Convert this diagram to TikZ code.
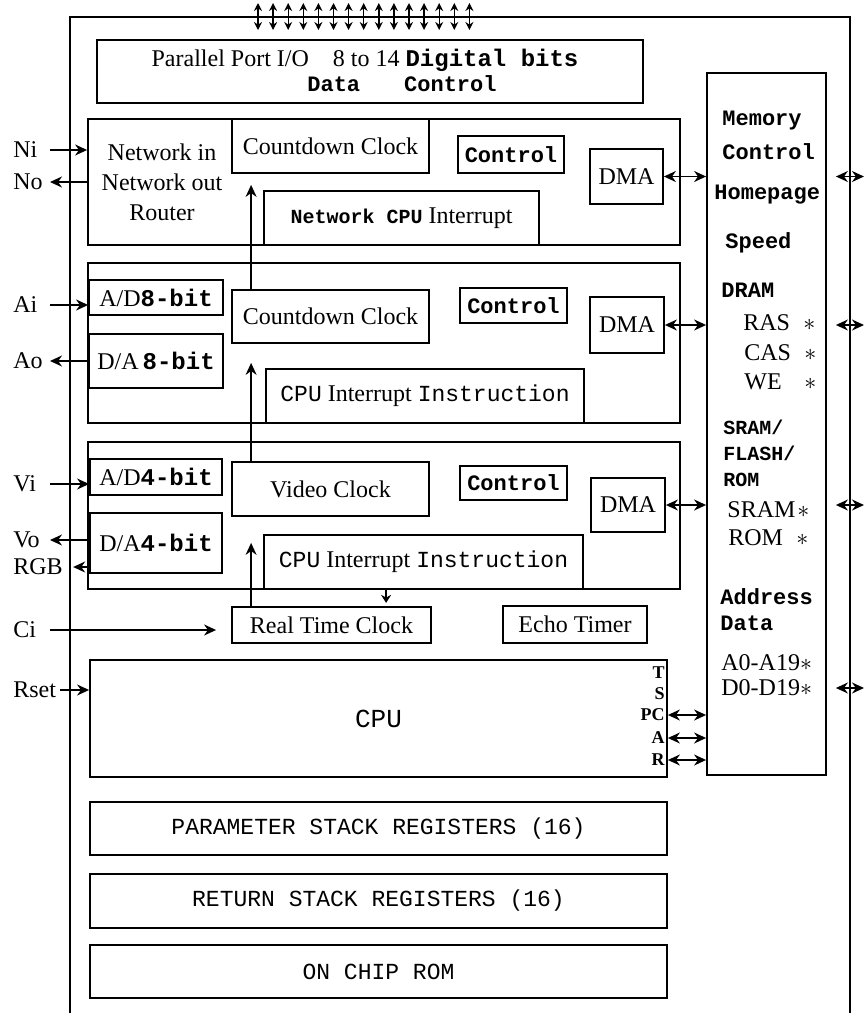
\documentclass[tikz,border=0pt]{standalone}
\usepackage{fontspec}
\setmainfont{Liberation Serif}
\setmonofont{Liberation Mono}
\usetikzlibrary{arrows.meta, calc}

\newcommand{\monob}{\ttfamily\bfseries}

\tikzset{
  blk/.style = {draw, line width=0.9pt, inner sep=0pt, font=\fontsize{12}{14}\selectfont},
  rmtxt/.style = {inner sep=0pt, font=\fontsize{12}{15}\selectfont},
  tttxt/.style = {inner sep=0pt, font=\monob\fontsize{11}{13}\selectfont},
  stktxt/.style = {font=\ttfamily\fontsize{11.5}{13}\selectfont},
  memtt/.style = {tttxt, anchor=west},
  memrm/.style = {rmtxt, anchor=west},
  pinlbl/.style = {rmtxt, anchor=west},
  reglbl/.style = {inner sep=0pt, anchor=east, font=\bfseries\fontsize{9}{10}\selectfont},
  sigarr/.style = {line width=0.8pt, -{Stealth[length=6pt, width=5.5pt]}},
  iobus/.style = {line width=0.8pt, {Stealth[length=6pt, width=5.5pt]}-{Stealth[length=6pt, width=5.5pt]}},
  pinbus/.style = {line width=0.7pt, {Stealth[length=4pt, width=4pt]}-{Stealth[length=4pt, width=4pt]}},
}

\begin{document}
\begin{tikzpicture}[x=0.5pt, y=-0.5pt]
\useasboundingbox (0,0) rectangle (864,1013);

% chip outline
\draw[line width=0.8pt] (70,1013) -- (70,17) -- (850,17) -- (850,1013);
\coordinate (edge) at (864,0);
\coordinate (lx) at (50,0);

% parallel port pins
\foreach \i in {0,...,14}
  \draw[pinbus] ({258+15.1*\i},3) -- ++(0,27);

% parallel port
\node[blk, minimum width=273pt, minimum height=31.5pt] (par) at (370,71.5) {};
\node[rmtxt] (partop) at (365,60) {Parallel Port I/O\quad 8 to 14 {\monob Digital bits}};
\node[tttxt] (parbot) at (402,84) {Data\qquad Control};

% network block
\node[blk, minimum width=296pt, minimum height=63pt] (net) at (384,182) {};
\node[rmtxt, align=center] (nettxt) at (162,182) {Network in\\Network out\\Router};
\node[blk, minimum width=98.5pt, minimum height=27pt] (cd1) at (330.5,146) {Countdown Clock};
\node[blk, minimum width=53pt, minimum height=18.5pt, tttxt] (ctl1) at (511,154.5) {Control};
\node[blk, minimum width=36.5pt, minimum height=27.5pt] (dma1) at (626.5,176.5) {DMA};
\node[blk, minimum width=137.5pt, minimum height=27pt] (nci) at (401.5,218)
  {{\monob\fontsize{10}{12}\selectfont Network CPU} Interrupt};

% analog block
\node[blk, minimum width=296pt, minimum height=80pt] (adc) at (384,343) {};
\node[blk, minimum width=67pt, minimum height=17.5pt] (ad8) at (156,297.5) {A/D{\monob 8-bit}};
\node[blk, minimum width=67pt, minimum height=27pt] (da8) at (156,361) {D/A\,{\monob 8-bit}};
\node[blk, minimum width=98.5pt, minimum height=26.5pt] (cd2) at (330.5,316.5) {Countdown Clock};
\node[blk, minimum width=53.5pt, minimum height=17.5pt, tttxt] (ctl2) at (513.5,305.5) {Control};
\node[blk, minimum width=37pt, minimum height=28pt] (dma2) at (627,325) {DMA};
\node[blk, minimum width=159pt, minimum height=27pt] (cii2) at (425,396)
  {{\ttfamily\fontsize{11.5}{13}\selectfont CPU} Interrupt {\ttfamily\fontsize{11.5}{13}\selectfont Instruction}};

% video block
\node[blk, minimum width=296pt, minimum height=73.5pt] (vid) at (384,515.5) {};
\node[blk, minimum width=66pt, minimum height=18pt] (ad4) at (156,477) {A/D{\monob 4-bit}};
\node[blk, minimum width=66pt, minimum height=30pt] (da4) at (156,543) {D/A{\monob 4-bit}};
\node[blk, minimum width=98.5pt, minimum height=27pt] (vclk) at (330.5,489) {Video Clock};
\node[blk, minimum width=53.5pt, minimum height=17pt, tttxt] (ctl3) at (513.5,483) {Control};
\node[blk, minimum width=37pt, minimum height=27pt] (dma3) at (628,505) {DMA};
\node[blk, minimum width=159.5pt, minimum height=27pt] (cii3) at (423.5,562)
  {{\ttfamily\fontsize{11.5}{13}\selectfont CPU} Interrupt {\ttfamily\fontsize{11.5}{13}\selectfont Instruction}};

% timers
\node[blk, minimum width=99.5pt, minimum height=18pt] (rtc) at (331.5,625) {Real Time Clock};
\node[blk, minimum width=72pt, minimum height=18.5pt] (echo) at (575,624.5) {Echo Timer};

% cpu and registers
\node[blk, minimum width=288.5pt, minimum height=58.5pt, font=\ttfamily\fontsize{13}{15}\selectfont] (cpu) at (378.5,718.5) {CPU};
\node[reglbl] (rt) at (665,673) {T};
\node[reglbl] (rs) at (665,694) {S};
\node[reglbl] (rpc) at (665,715) {PC};
\node[reglbl] (ra) at (665,738) {A};
\node[reglbl] (rr) at (665,760) {R};

\node[blk, minimum width=288.5pt, minimum height=26.5pt, stktxt] (psr) at (378.5,828.5) {PARAMETER STACK REGISTERS (16)};
\node[blk, minimum width=288.5pt, minimum height=27pt, stktxt] (rsr) at (378.5,901) {RETURN STACK REGISTERS (16)};
\node[blk, minimum width=288.5pt, minimum height=26.5pt, stktxt] (rom) at (378.5,971.5) {ON CHIP ROM};

% memory control
\node[blk, minimum width=59.5pt, minimum height=351pt] (mem) at (766.5,424) {};
\node[memtt] (mmem) at (722,121) {Memory};
\node[memtt] (mctl) at (722,152) {Control};
\node[memtt] (mhome) at (714,195) {Homepage};
\node[memtt] (mspd) at (725,243) {Speed};
\node[memtt] (mdram) at (721,290) {DRAM};
\node[memrm] (mras) at (743,323) {\makebox[30pt][l]{RAS}$\ast$};
\node[memrm] (mcas) at (744,353) {\makebox[30pt][l]{CAS}$\ast$};
\node[memrm] (mwe) at (744,382) {\makebox[30pt][l]{WE}$\ast$};
\node[memtt, font=\monob\fontsize{10}{12}\selectfont] (msram) at (723,427) {SRAM/};
\node[memtt, font=\monob\fontsize{10}{12}\selectfont] (mflash) at (723,453) {FLASH/};
\node[memtt, font=\monob\fontsize{10}{12}\selectfont] (mrom) at (723,480) {ROM};
\node[memrm] (msr) at (727,510) {\makebox[35pt][l]{SRAM}$\ast$};
\node[memrm] (mro) at (728,538) {\makebox[34pt][l]{ROM}$\ast$};
\node[memtt] (maddr) at (720,597) {Address};
\node[memtt] (mdata) at (720,623) {Data};
\node[memrm] (ma019) at (721,663) {A0-A19$\ast$};
\node[memrm] (md019) at (721,688) {D0-D19$\ast$};

% dma and external memory buses
\draw[iobus] (dma1.east) -- (dma1.east -| mem.west);
\draw[iobus] (dma2.east) -- (dma2.east -| mem.west);
\draw[iobus] (dma3.east) -- (dma3.east -| mem.west);
\draw[iobus] ($(dma1.east -| mem.east)+(9,0)$) -- (dma1.east -| edge);
\draw[iobus] ($(dma2.east -| mem.east)+(9,0)$) -- (dma2.east -| edge);
\draw[iobus] ($(dma3.east -| mem.east)+(9,0)$) -- (dma3.east -| edge);
\draw[iobus] ($(md019.east -| mem.east)+(9,0)$) -- (md019.east -| edge);

% cpu register buses
\draw[iobus] (rpc.east -| cpu.east) -- (rpc.east -| mem.west);
\draw[iobus] (ra.east -| cpu.east) -- (ra.east -| mem.west);
\draw[iobus] (rr.east -| cpu.east) -- (rr.east -| mem.west);

% clock chain
\draw[sigarr] ($(cd2.north west)+(20,0)$) -- ($(cd1.south west)+(20,11)$);
\draw[sigarr] ($(vclk.north west)+(20,0)$) -- ($(cd2.south west)+(20,19)$);
\draw[sigarr] ($(rtc.north west)+(20,0)$) -- ($(vclk.south west)+(20,26)$);
\draw[sigarr, -{Stealth[length=4pt, width=5pt]}] ($(vid.south west)+(299,0)$) -- ++(0,13);

% external pins
\node[pinlbl] (ni) at (13,150) {Ni};
\node[pinlbl] (no) at (13,182) {No};
\node[pinlbl] (ai) at (13,305) {Ai};
\node[pinlbl] (ao) at (13,361) {Ao};
\node[pinlbl] (vi) at (13,484) {Vi};
\node[pinlbl] (vo) at (13,540) {Vo};
\node[pinlbl] (rgb) at (13,567) {RGB};
\node[pinlbl] (ci) at (13,630) {Ci};
\node[pinlbl] (rset) at (13,690) {Rset};

\draw[sigarr] (ni.east -| lx) -- (ni.east -| net.west);
\draw[sigarr] (no.east -| net.west) -- (no.east -| lx);
\draw[sigarr] (ai.east -| lx) -- (ai.east -| ad8.west);
\draw[sigarr] (ao.east -| da8.west) -- (ao.east -| lx);
\draw[sigarr] (vi.east -| lx) -- (vi.east -| ad4.west);
\draw[sigarr] (vo.east -| da4.west) -- (vo.east -| lx);
\draw[sigarr] (rgb.east -| da4.west) -- ($(rgb.east)+(10,0)$);
\draw[sigarr] (ci.east -| lx) -- ($(ci.east -| rtc.west)+(-15,0)$);
\draw[sigarr] ($(rset.east)+(4,0)$) -- (rset.east -| cpu.west);

\end{tikzpicture}
\end{document}
